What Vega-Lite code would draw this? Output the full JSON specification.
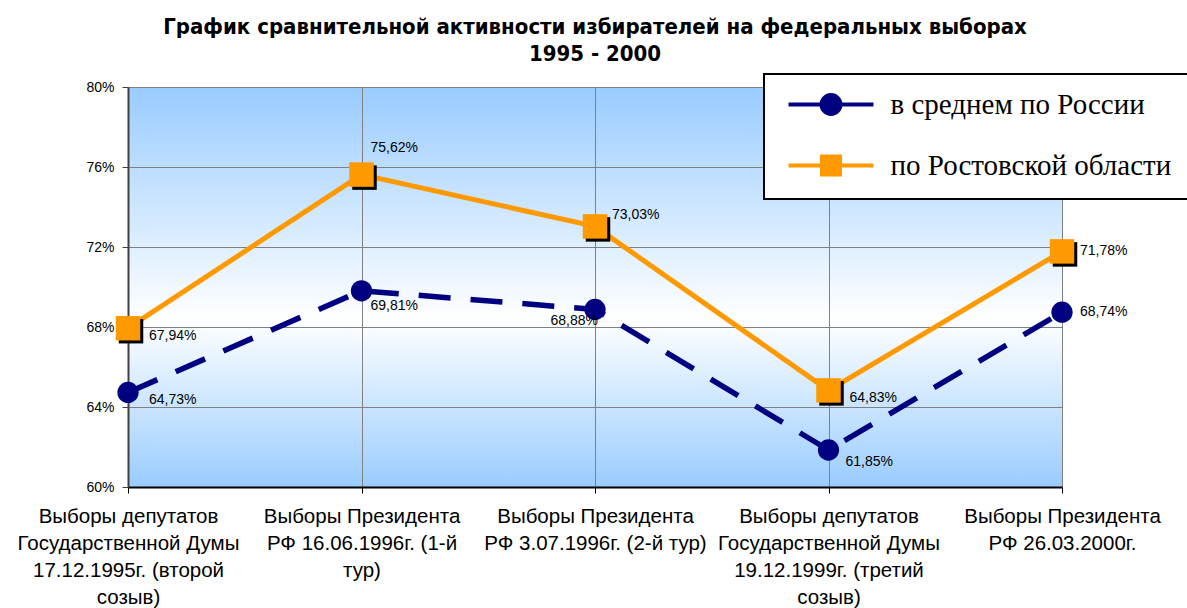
{
  "$schema": "https://vega.github.io/schema/vega-lite/v6.json",
  "width": 934,
  "height": 400,
  "autosize": {"type": "none"},
  "padding": {"left": 128, "top": 87, "right": 125, "bottom": 121},
  "background": "white",
  "title": {
    "text": ["График сравнительной активности избирателей  на федеральных выборах", "1995 - 2000"],
    "anchor": "middle",
    "frame": "group",
    "font": "Liberation Sans Narrow, DejaVu Sans Condensed, Arial Narrow, Liberation Sans, sans-serif",
    "fontSize": 22,
    "fontWeight": "bold",
    "color": "black",
    "lineHeight": 27,
    "offset": 7
  },
  "data": {
    "values": [
      {"cat": "Выборы депутатов\nГосударственной Думы\n17.12.1995г. (второй\nсозыв)", "series": "в среднем по России", "idx": 0, "value": 0.6473},
      {"cat": "Выборы Президента\nРФ 16.06.1996г. (1-й\nтур)", "series": "в среднем по России", "idx": 1, "value": 0.6981},
      {"cat": "Выборы Президента\nРФ 3.07.1996г. (2-й тур)", "series": "в среднем по России", "idx": 2, "value": 0.6888},
      {"cat": "Выборы депутатов\nГосударственной Думы\n19.12.1999г. (третий\nсозыв)", "series": "в среднем по России", "idx": 3, "value": 0.6185},
      {"cat": "Выборы Президента\nРФ 26.03.2000г.", "series": "в среднем по России", "idx": 4, "value": 0.6874},
      {"cat": "Выборы депутатов\nГосударственной Думы\n17.12.1995г. (второй\nсозыв)", "series": "по Ростовской области", "idx": 0, "value": 0.6794},
      {"cat": "Выборы Президента\nРФ 16.06.1996г. (1-й\nтур)", "series": "по Ростовской области", "idx": 1, "value": 0.7562},
      {"cat": "Выборы Президента\nРФ 3.07.1996г. (2-й тур)", "series": "по Ростовской области", "idx": 2, "value": 0.7303},
      {"cat": "Выборы депутатов\nГосударственной Думы\n19.12.1999г. (третий\nсозыв)", "series": "по Ростовской области", "idx": 3, "value": 0.6483},
      {"cat": "Выборы Президента\nРФ 26.03.2000г.", "series": "по Ростовской области", "idx": 4, "value": 0.7178}
    ]
  },
  "encoding": {
    "x": {
      "field": "cat", "type": "nominal", "sort": null,
      "scale": {"type": "point", "padding": 0},
      "axis": {
        "title": null,
        "labelExpr": "split(datum.label, '\\n')",
        "labelAngle": 0, "labelAlign": "center", "labelBaseline": "top",
        "labelFont": "Liberation Sans, Arial, sans-serif", "labelFontSize": 20.5,
        "labelColor": "black", "labelLineHeight": 27, "labelPadding": 13,
        "labelLimit": 0, "labelOverlap": false, "labelFlush": false,
        "tickSize": 6, "tickColor": "black", "domainColor": "black", "domainWidth": 2,
        "grid": true, "gridColor": "#808080", "gridWidth": 1
      }
    },
    "y": {
      "field": "value", "type": "quantitative",
      "scale": {"domain": [0.6, 0.8], "nice": false, "zero": false},
      "axis": {
        "title": null,
        "values": [0.6, 0.64, 0.68, 0.72, 0.76, 0.8],
        "format": ".0%",
        "labelFont": "Liberation Sans, Arial, sans-serif", "labelFontSize": 14,
        "labelColor": "black", "labelPadding": 8,
        "tickSize": 6, "tickColor": "#404040", "domainColor": "#404040", "domainWidth": 2,
        "grid": true, "gridColor": "#808080", "gridWidth": 1
      }
    }
  },
  "layer": [
    {
      "transform": [{"filter": "datum.series === 'в среднем по России'"}],
      "mark": {"type": "line", "strokeWidth": 5.5, "strokeDash": [32, 20]},
      "encoding": {
        "color": {
          "field": "series", "type": "nominal",
          "scale": {"domain": ["в среднем по России", "по Ростовской области"], "range": ["#000080", "#FF9900"]},
          "legend": {
            "title": null,
            "orient": "none",
            "legendX": 636,
            "legendY": -13,
            "direction": "vertical",
            "fillColor": "white",
            "strokeColor": "black",
            "padding": 16,
            "symbolSize": 576,
            "symbolOffset": 36.5,
            "labelOffset": 45,
            "labelFont": "Liberation Serif, Times New Roman, serif",
            "labelFontSize": 29,
            "labelColor": "black",
            "labelLimit": 0,
            "rowPadding": 26,
            "encode": {
              "legend": {"update": {"strokeWidth": {"value": 2}}},
              "symbols": {
                "update": {
                  "shape": {"signal": "datum.value === 'в среднем по России' ? 'M-3.54,0H3.54M0.79,0A0.79,0.79,0,1,1,-0.79,0A0.79,0.79,0,1,1,0.79,0Z' : 'M-3.54,0H3.54M-0.75,-0.75H0.75V0.75H-0.75Z'"},
                  "fill": {"scale": "color", "field": "value"},
                  "stroke": {"scale": "color", "field": "value"},
                  "strokeWidth": {"value": 4},
                  "opacity": {"value": 1}
                }
              }
            }
          }
        }
      }
    },
    {
      "transform": [{"filter": "datum.series === 'по Ростовской области'"}],
      "mark": {"type": "line", "strokeWidth": 5},
      "encoding": {"color": {"field": "series", "type": "nominal"}}
    },
    {
      "transform": [{"filter": "datum.series === 'в среднем по России'"}],
      "mark": {"type": "point", "shape": "circle", "filled": true, "size": 452, "opacity": 1},
      "encoding": {"color": {"field": "series", "type": "nominal"}}
    },
    {
      "transform": [{"filter": "datum.series === 'по Ростовской области'"}],
      "mark": {"type": "point", "shape": "square", "filled": true, "size": 600, "opacity": 1, "color": "black", "xOffset": 3, "yOffset": 3},
      "encoding": {}
    },
    {
      "transform": [{"filter": "datum.series === 'по Ростовской области'"}],
      "mark": {"type": "point", "shape": "square", "filled": true, "size": 600, "opacity": 1},
      "encoding": {"color": {"field": "series", "type": "nominal"}}
    },
    {
      "transform": [{"filter": "(datum.series === 'по Ростовской области' && (datum.idx === 0 || datum.idx === 3)) || (datum.series === 'в среднем по России' && datum.idx === 0)"}],
      "mark": {"type": "text", "align": "left", "baseline": "middle", "dx": 21, "dy": 8, "font": "Liberation Sans, Arial, sans-serif", "fontSize": 14, "color": "black"},
      "encoding": {"text": {"field": "value", "type": "quantitative", "format": ".2%"}}
    },
    {
      "transform": [{"filter": "datum.idx === 4"}],
      "mark": {"type": "text", "align": "left", "baseline": "middle", "dx": 18, "dy": 0, "font": "Liberation Sans, Arial, sans-serif", "fontSize": 14, "color": "black"},
      "encoding": {"text": {"field": "value", "type": "quantitative", "format": ".2%"}}
    },
    {
      "transform": [{"filter": "datum.series === 'по Ростовской области' && datum.idx === 1"}],
      "mark": {"type": "text", "align": "left", "baseline": "middle", "dx": 9, "dy": -27, "font": "Liberation Sans, Arial, sans-serif", "fontSize": 14, "color": "black"},
      "encoding": {"text": {"field": "value", "type": "quantitative", "format": ".2%"}}
    },
    {
      "transform": [{"filter": "datum.series === 'по Ростовской области' && datum.idx === 2"}],
      "mark": {"type": "text", "align": "left", "baseline": "middle", "dx": 17, "dy": -11, "font": "Liberation Sans, Arial, sans-serif", "fontSize": 14, "color": "black"},
      "encoding": {"text": {"field": "value", "type": "quantitative", "format": ".2%"}}
    },
    {
      "transform": [{"filter": "datum.series === 'в среднем по России' && datum.idx === 1"}],
      "mark": {"type": "text", "align": "left", "baseline": "middle", "dx": 9, "dy": 15, "font": "Liberation Sans, Arial, sans-serif", "fontSize": 14, "color": "black"},
      "encoding": {"text": {"field": "value", "type": "quantitative", "format": ".2%"}}
    },
    {
      "transform": [{"filter": "datum.series === 'в среднем по России' && datum.idx === 2"}],
      "mark": {"type": "text", "align": "right", "baseline": "middle", "dx": 3, "dy": 12, "font": "Liberation Sans, Arial, sans-serif", "fontSize": 14, "color": "black"},
      "encoding": {"text": {"field": "value", "type": "quantitative", "format": ".2%"}}
    },
    {
      "transform": [{"filter": "datum.series === 'в среднем по России' && datum.idx === 3"}],
      "mark": {"type": "text", "align": "left", "baseline": "middle", "dx": 17, "dy": 12, "font": "Liberation Sans, Arial, sans-serif", "fontSize": 14, "color": "black"},
      "encoding": {"text": {"field": "value", "type": "quantitative", "format": ".2%"}}
    }
  ],
  "config": {
    "locale": {
      "number": {"decimal": ",", "thousands": " ", "grouping": [3], "currency": ["", " ₽"]}
    },
    "view": {
      "stroke": "#808080",
      "strokeWidth": 1,
      "fill": {
        "gradient": "linear", "x1": 0, "y1": 0, "x2": 0, "y2": 1,
        "stops": [
          {"offset": 0, "color": "#99CCFF"},
          {"offset": 0.58, "color": "#FFFFFF"},
          {"offset": 1, "color": "#99CCFF"}
        ]
      }
    }
  }
}
